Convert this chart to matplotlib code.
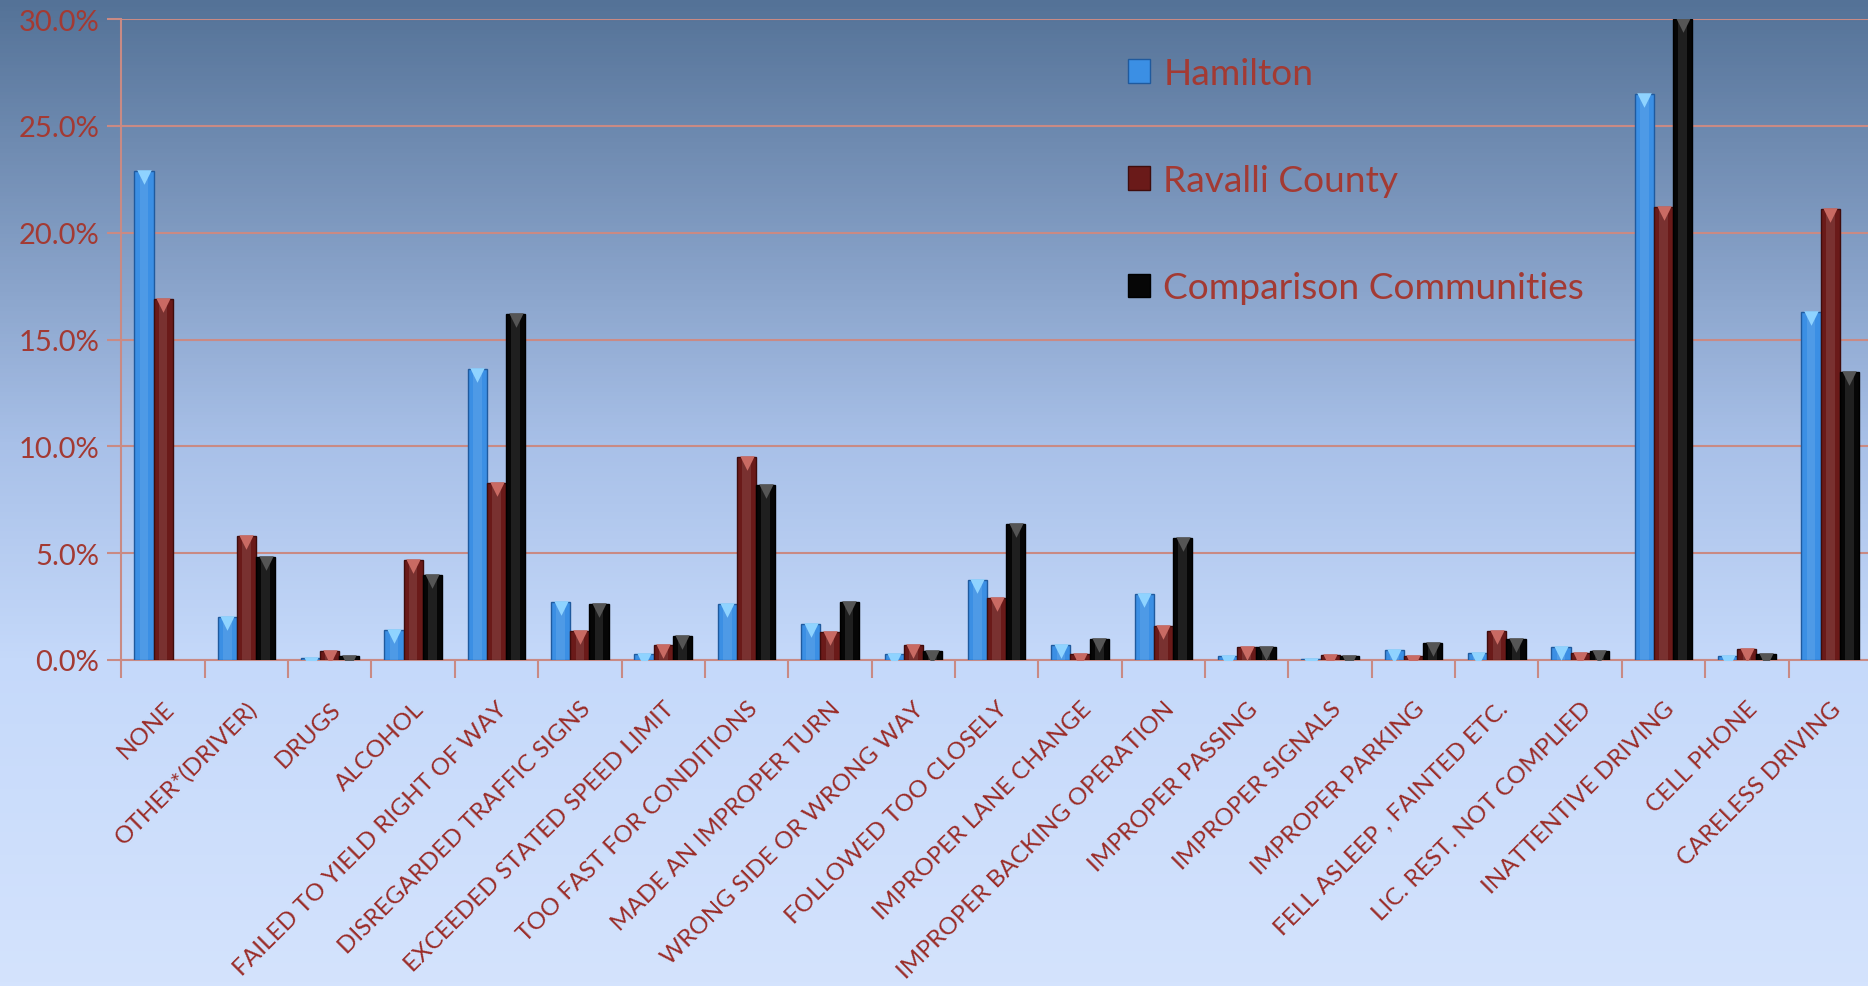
import numpy as np
import matplotlib
matplotlib.use("Agg")
import matplotlib.pyplot as plt
from matplotlib.colors import LinearSegmentedColormap
from matplotlib.patches import Patch
from matplotlib.ticker import FixedLocator, FuncFormatter
import matplotlib.transforms as mtransforms

categories = ["NONE", "OTHER*(DRIVER)", "DRUGS", "ALCOHOL", "FAILED TO YIELD RIGHT OF WAY",
              "DISREGARDED TRAFFIC SIGNS", "EXCEEDED STATED SPEED LIMIT", "TOO FAST FOR CONDITIONS",
              "MADE AN IMPROPER TURN", "WRONG SIDE OR WRONG WAY", "FOLLOWED TOO CLOSELY",
              "IMPROPER LANE CHANGE", "IMPROPER BACKING OPERATION", "IMPROPER PASSING",
              "IMPROPER SIGNALS", "IMPROPER PARKING", "FELL ASLEEP , FAINTED ETC.",
              "LIC. REST. NOT COMPLIED", "INATTENTIVE DRIVING", "CELL PHONE", "CARELESS DRIVING"]
hamilton = [22.9, 2.0, 0.1, 1.4, 13.6, 2.7, 0.3, 2.6, 1.7, 0.3, 3.75, 0.7, 3.1, 0.2, 0.05,
            0.45, 0.35, 0.6, 26.5, 0.2, 16.3]
ravalli = [16.9, 5.8, 0.4, 4.7, 8.3, 1.35, 0.7, 9.5, 1.3, 0.7, 2.9, 0.3, 1.6, 0.6, 0.25,
           0.2, 1.35, 0.35, 21.2, 0.5, 21.1]
comparison = [0.0, 4.8, 0.2, 4.0, 16.2, 2.6, 1.1, 8.2, 2.7, 0.4, 6.35, 1.0, 5.7, 0.6, 0.2,
              0.8, 1.0, 0.4, 30.0, 0.3, 13.5]
series_names = ["Hamilton", "Ravalli County", "Comparison Communities"]
yticks = [0, 5, 10, 15, 20, 25, 30]

colors = ["#3b8fe4", "#6a1a19", "#060606"]
edge_colors = ["#1f5a9e", "#3f0c0c", "#000000"]
tri_colors = ["#8fd3ff", "#c96a63", "#555555"]
text_red = "#a33a33"
grid_col = "#c98a84"

plt.rcParams['font.family'] = ['Lato', 'DejaVu Sans']

fig = plt.figure(figsize=(18.68, 9.87), dpi=100)

# background gradient
bg = fig.add_axes([0, 0, 1, 1], zorder=-10)
cmap = LinearSegmentedColormap.from_list("bg", [
    (0.0, (212/255, 227/255, 253/255)),
    (0.33, (197/255, 217/255, 250/255)),
    (0.55, (168/255, 192/255, 232/255)),
    (1.0, (84/255, 114/255, 151/255)),
])
grad = np.linspace(0, 1, 256).reshape(-1, 1)
bg.imshow(grad, aspect='auto', cmap=cmap, origin='lower', extent=[0, 1, 0, 1])
bg.set_axis_off()

ax = fig.add_axes([0.0650, 0.3303, 0.9371, 0.6494])
ax.set_facecolor("none")

x = np.arange(len(categories))
w = 0.23
all_series = [hamilton, ravalli, comparison]
for i, vals in enumerate(all_series):
    xs = x + (i - 1) * w
    vv = np.array(vals)
    m = vv > 0
    ax.bar(xs[m], vv[m], width=w, color=colors[i], edgecolor=edge_colors[i], linewidth=1.0, zorder=3)
    # lighter central sheen
    ax.bar(xs[m], vv[m], width=w * 0.45, color="white", alpha=0.10, linewidth=0, zorder=3.5)
    off = mtransforms.offset_copy(ax.transData, fig=fig, x=0, y=-6, units='dots')
    ax.scatter(xs[m], vv[m], marker='v', s=110, color=tri_colors[i], transform=off,
               zorder=4, linewidths=0, clip_on=True)

ax.set_xlim(-0.5, len(categories) - 0.5)
ax.set_ylim(0, 30)

ax.set_yticks(yticks)
ax.yaxis.set_major_formatter(FuncFormatter(lambda v, p: f"{v:.1f}%"))
ax.tick_params(axis='y', colors=grid_col, labelcolor=text_red, labelsize=21, length=10,
               width=1.5, pad=6)
ax.grid(axis='y', color=grid_col, linewidth=1.5, zorder=1)

ax.set_xticks(x)
ax.set_xticklabels(categories, rotation=45, ha='right', va='top', rotation_mode='anchor',
                   color="#9a2c28", fontsize=17.5)
ax.tick_params(axis='x', length=0, pad=27)
ax.xaxis.set_minor_locator(FixedLocator(np.arange(-0.5, len(categories), 1.0)))
ax.tick_params(axis='x', which='minor', length=13, width=1.5, color=grid_col)

for s in ['top', 'right']:
    ax.spines[s].set_visible(False)
for s in ['left', 'bottom']:
    ax.spines[s].set_color(grid_col)
    ax.spines[s].set_linewidth(1.5)
ax.set_axisbelow(True)

handles = [Patch(facecolor=colors[i], edgecolor=edge_colors[i]) for i in range(3)]
leg = fig.legend(handles, series_names, loc='upper left', bbox_to_anchor=(0.586, 0.975),
                 frameon=False, fontsize=26.7, handlelength=0.6, handleheight=0.6,
                 handletextpad=0.35, labelspacing=2.0)
for t in leg.get_texts():
    t.set_color(text_red)

fig.savefig("out.png", dpi=100)
